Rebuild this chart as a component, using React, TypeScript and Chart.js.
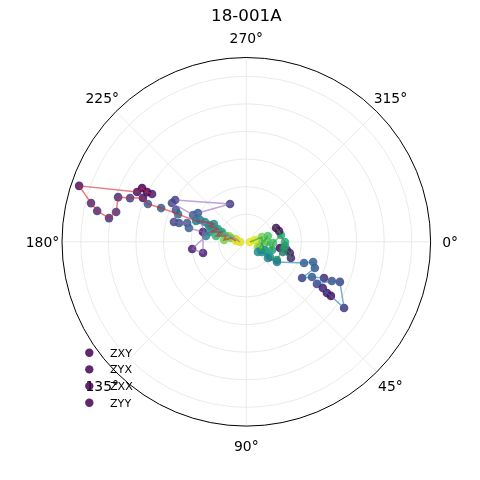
import { useEffect, useRef } from "react";
import { Chart, registerables } from "chart.js";

Chart.register(...registerables);

const TITLE = "18-001A";
const SERIES_NAMES = ["ZXY", "ZYX", "ZXX", "ZYY"];
const ANGLE_TICKS = [0, 45, 90, 135, 180, 225, 270, 315];
const R_TICKS = [1, 2, 3, 4, 5, 6];
const R_MAX = 6.68;

// ZXY
const zxyTheta = [206.9, 206.6, 207.3, 204.5, 198.5, 194.0, 191.7, 189.8, 192.9, 199.2, 200.6, 203.0, 201.0, 201.6, 202.1, 202.5, 205.6, 208.9, 203.0, 204.3, 195.1, 202.0, 190.8, 195.9, 184.6, 193.9, 184.4];
const zxyR = [3.83, 4.02, 4.25, 4.35, 6.39, 5.80, 5.52, 5.05, 4.84, 4.92, 4.50, 4.07, 3.82, 3.32, 2.67, 1.97, 1.66, 1.34, 1.47, 1.13, 1.36, 0.95, 1.12, 0.77, 0.81, 0.57, 0.37];
const zxyC = [0.08, 0.02, 0.0, 0.04, 0.05, 0.12, 0.13, 0.15, 0.15, 0.14, 0.18, 0.06, 0.28, 0.30, 0.35, 0.42, 0.45, 0.48, 0.50, 0.55, 0.50, 0.60, 0.65, 0.70, 0.80, 0.78, 0.95];

// ZYX
const zyxTheta = [210.4, 246.7, 210.8, 206.7, 207.6, 204.3, 195.3, 195.6, 197.6, 193.5, 192.8, 165.5, 172.4, 188.2, 205.2, 204.8, 202.2, 199.2, 198.5, 195.2, 178.2];
const zyxR = [2.99, 1.49, 2.04, 2.16, 3.04, 2.80, 2.72, 2.53, 2.25, 2.14, 1.61, 1.62, 1.98, 1.48, 1.85, 1.45, 1.23, 0.97, 0.66, 0.39, 0.23];
const zyxC = [0.20, 0.18, 0.28, 0.30, 0.22, 0.25, 0.22, 0.25, 0.30, 0.32, 0.05, 0.08, 0.08, 0.45, 0.42, 0.50, 0.55, 0.75, 0.85, 0.90, 0.95];

// ZXX
const zxxTheta = [24.0, 41.1, 29.3, 36.7, 33.3, 20.2, 16.8, 20.9, 33.0, 28.2, 25.0, 30.8, 24.6, 23.2, 34.1, 32.6, 32.4, 31.1];
const zxxR = [0.46, 0.56, 0.90, 0.98, 1.33, 2.23, 2.53, 2.66, 2.41, 2.70, 3.11, 2.98, 3.41, 3.69, 4.28, 3.64, 3.46, 3.24];
const zxxC = [0.85, 0.50, 0.60, 0.45, 0.42, 0.30, 0.30, 0.28, 0.18, 0.28, 0.12, 0.20, 0.25, 0.20, 0.15, 0.02, 0.05, 0.08];

// ZYY
const zyyTheta = [3.1, 348.3, 343.0, 4.4, 345.0, 20.8, 33.0, 23.7, 0.5, 17.7, 2.6, 348.9, 341.7, 335.1, 0.3, 10.4, 11.4, 14.4, 19.9, 15.5, 6.2, 30.7, 32.7];
const zyyR = [0.13, 0.32, 0.59, 0.57, 0.81, 0.53, 0.68, 0.74, 0.79, 0.98, 0.97, 1.28, 1.25, 1.19, 1.40, 1.24, 1.50, 1.63, 1.72, 1.38, 1.41, 1.29, 1.02];
const zyyC = [0.97, 0.95, 0.80, 0.80, 0.72, 0.55, 0.48, 0.50, 0.75, 0.55, 0.70, 0.60, 0.05, 0.02, 0.62, 0.02, 0.05, 0.10, 0.10, 0.40, 0.55, 0.45, 0.50];

const LINE_COLORS = [
  "rgba(214,39,40,0.6)",
  "rgba(148,103,189,0.6)",
  "rgba(31,119,180,0.6)",
  "rgba(44,160,44,0.6)",
];

const VIRIDIS = [
  [68, 1, 84], [72, 36, 117], [65, 68, 135], [53, 95, 141], [42, 120, 142],
  [33, 145, 140], [34, 168, 132], [68, 191, 112], [122, 209, 81], [189, 223, 38], [253, 231, 37],
];

function viridis(v: number, a: number) {
  const t = Math.max(0, Math.min(1, v)) * 10;
  const i = Math.min(9, Math.floor(t));
  const f = t - i;
  const c0 = VIRIDIS[i], c1 = VIRIDIS[i + 1];
  const c = c0.map((x, k) => Math.round(x + (c1[k] - x) * f));
  return `rgba(${c[0]},${c[1]},${c[2]},${a})`;
}

const FONT = '"DejaVu Sans", sans-serif';

const polarPlugin = {
  id: "polarGrid",
  beforeDatasetsDraw(chart: any) {
    const { ctx, scales } = chart;
    const sx = scales.x, sy = scales.y;
    const cx = sx.getPixelForValue(0), cy = sy.getPixelForValue(0);
    const R = sx.getPixelForValue(R_MAX) - cx;
    ctx.save();
    ctx.strokeStyle = "#e4e4e4";
    ctx.lineWidth = 0.8;
    for (const r of R_TICKS) {
      const pr = sx.getPixelForValue(r) - cx;
      ctx.beginPath();
      ctx.arc(cx, cy, pr, 0, Math.PI * 2);
      ctx.stroke();
    }
    for (const a of ANGLE_TICKS) {
      const t = (a * Math.PI) / 180;
      ctx.beginPath();
      ctx.moveTo(cx, cy);
      ctx.lineTo(cx + R * Math.cos(t), cy + R * Math.sin(t));
      ctx.stroke();
    }
    ctx.restore();
  },
  afterDatasetsDraw(chart: any) {
    const { ctx, scales } = chart;
    const sx = scales.x, sy = scales.y;
    const cx = sx.getPixelForValue(0), cy = sy.getPixelForValue(0);
    const R = sx.getPixelForValue(R_MAX) - cx;
    ctx.save();
    ctx.strokeStyle = "#000";
    ctx.lineWidth = 1;
    ctx.beginPath();
    ctx.arc(cx, cy, R, 0, Math.PI * 2);
    ctx.stroke();

    ctx.fillStyle = "#000";
    ctx.font = `13.9px ${FONT}`;
    ctx.textAlign = "center";
    ctx.textBaseline = "alphabetic";
    const LR = R + 19.5;
    for (const a of ANGLE_TICKS) {
      const t = (a * Math.PI) / 180;
      ctx.fillText(`${a}°`, cx + LR * Math.cos(t), cy + LR * Math.sin(t) + 5);
    }

    ctx.font = `16.7px ${FONT}`;
    ctx.fillText(TITLE, cx, 20.7);

    ctx.font = `11.1px ${FONT}`;
    ctx.textAlign = "left";
    SERIES_NAMES.forEach((name, i) => {
      const yy = 352.7 + i * 16.7;
      ctx.fillStyle = "rgba(68,1,84,0.85)";
      ctx.beginPath();
      ctx.arc(89.3, yy, 4.2, 0, Math.PI * 2);
      ctx.fill();
      ctx.fillStyle = "#000";
      ctx.fillText(name, 110, yy + 4);
    });
    ctx.restore();
  },
};

function toXY(theta: number[], r: number[]) {
  return theta.map((t, i) => ({
    x: r[i] * Math.cos((t * Math.PI) / 180),
    y: -r[i] * Math.sin((t * Math.PI) / 180),
  }));
}

export default function App() {
  const ref = useRef<HTMLCanvasElement>(null);
  useEffect(() => {
    const series = [
      { t: zxyTheta, r: zxyR, c: zxyC },
      { t: zyxTheta, r: zyxR, c: zyxC },
      { t: zxxTheta, r: zxxR, c: zxxC },
      { t: zyyTheta, r: zyyR, c: zyyC },
    ];
    const datasets: any[] = [];
    series.forEach((s, i) => {
      const data = toXY(s.t, s.r);
      datasets.push({
        label: SERIES_NAMES[i],
        data,
        showLine: false,
        pointRadius: 4.3,
        pointBorderWidth: 0,
        pointBackgroundColor: s.c.map((v) => viridis(v, 0.85)),
        order: 1,
      });
      datasets.push({
        label: SERIES_NAMES[i] + " line",
        data,
        showLine: true,
        pointRadius: 0,
        borderColor: LINE_COLORS[i],
        borderWidth: 1.5,
        order: 0,
      });
    });
    const chart = new Chart(ref.current!, {
      type: "scatter",
      data: { datasets },
      options: {
        responsive: false,
        animation: false,
        layout: { padding: { left: 62, right: 49.4, top: 57.5, bottom: 53.9 } },
        scales: {
          x: { display: false, min: -R_MAX, max: R_MAX },
          y: { display: false, min: -R_MAX, max: R_MAX },
        },
        plugins: { legend: { display: false }, tooltip: { enabled: false } },
      },
      plugins: [polarPlugin],
    });
    return () => chart.destroy();
  }, []);
  return (
    <div style={{ position: "fixed", left: 0, top: 0, width: 480, height: 480, background: "#fff" }}>
      <canvas ref={ref} width={480} height={480} />
    </div>
  );
}
